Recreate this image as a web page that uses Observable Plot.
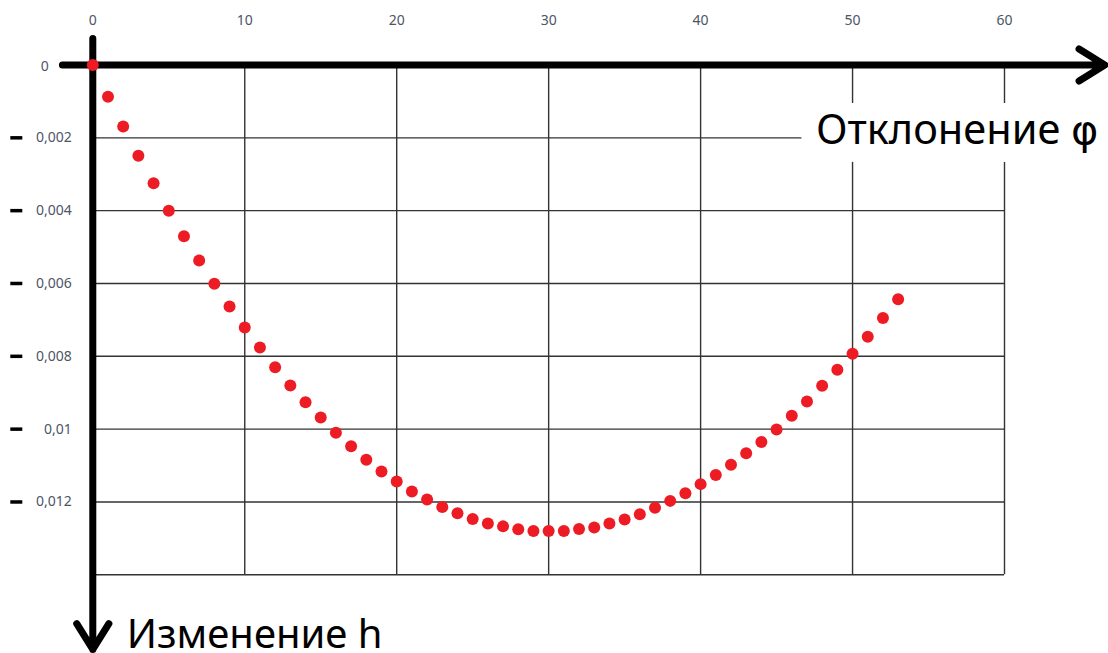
<!DOCTYPE html>
<html>
<head>
<meta charset="utf-8">
<script src="https://cdn.jsdelivr.net/npm/d3@7"></script>
<script src="https://cdn.jsdelivr.net/npm/@observablehq/plot@0.6"></script>
<style>
  html, body { margin: 0; padding: 0; background: #fff; }
  #chart svg { display: block; }
</style>
</head>
<body>
<div id="chart"></div>
<script>
// Data
const phi = [0,1,2,3,4,5,6,7,8,9,10,11,12,13,14,15,16,17,18,19,20,21,22,23,24,25,26,27,28,29,30,31,32,33,34,35,36,37,38,39,40,41,42,43,44,45,46,47,48,49,50,51,52,53];
const h = [0,0.00087,0.00169,0.00249,0.00325,0.0040,0.0047,0.00537,0.00601,0.00663,0.00721,0.00776,0.0083,0.0088,0.00926,0.00968,0.0101,0.01047,0.01084,0.01116,0.01144,0.01171,0.01193,0.01214,0.01231,0.01247,0.01259,0.01267,0.01275,0.0128,0.0128,0.0128,0.01274,0.0127,0.01259,0.01248,0.01234,0.01216,0.01197,0.01176,0.01151,0.01126,0.01098,0.01066,0.01035,0.01001,0.00963,0.00924,0.00881,0.00837,0.00793,0.00746,0.00695,0.00643];
const xTicks = [0,10,20,30,40,50,60];
const yTicks = [0,0.002,0.004,0.006,0.008,0.01,0.012];
const yTickLabels = ["0","0,002","0,004","0,006","0,008","0,01","0,012"];
const xGrid = [10,20,30,40,50,60];
const yGrid = [0.002,0.004,0.006,0.008,0.01,0.012,0.014];
const xLabel = "Отклонение φ";
const yLabel = "Изменение h";

const points = phi.map((p, i) => ({phi: p, h: h[i]}));
const yTickRows = yTicks.map((v, i) => ({v, label: yTickLabels[i]}));

const font = "'Noto Sans', 'Open Sans', sans-serif";
const tickColor = "#4d5566";
const xLabelOpts = {frameAnchor: "top-right", textAnchor: "end", lineAnchor: "bottom", dx: 94, dy: 79, fontSize: 41.5, className: "xlab"};

const chart = Plot.plot({
  width: 1108,
  height: 653,
  marginLeft: 92.3,
  marginRight: 104,
  marginTop: 64.5,
  marginBottom: 78.7,
  style: {fontFamily: font, background: "#fff", overflow: "visible"},
  x: {domain: [0, 60], axis: null},
  y: {domain: [0, 0.014], reverse: true, axis: null},
  marks: [
    // grid
    Plot.ruleX(xGrid, {x: d => d, y1: 0, y2: 0.014, stroke: "#333", strokeWidth: 1.4}),
    Plot.ruleY(yGrid, {y: d => d, x1: 0, x2: 60, stroke: "#333", strokeWidth: 1.4}),
    // white backing behind the axis label
    Plot.text([xLabel], {...xLabelOpts, fill: "white", stroke: "white", strokeWidth: 36, strokeLinejoin: "round"}),
    // axis arrows
    Plot.arrow([{a: -2, b: 66.6}], {x1: "a", x2: "b", y1: 0, y2: 0, stroke: "#000", strokeWidth: 7, headLength: 6.5, headAngle: 64, strokeLinecap: "round", strokeLinejoin: "round"}),
    Plot.arrow([{a: -0.00073, b: 0.01605}], {y1: "a", y2: "b", x1: 0, x2: 0, stroke: "#000", strokeWidth: 7, headLength: 6.5, headAngle: 64, strokeLinecap: "round", strokeLinejoin: "round"}),
    // axis label
    Plot.text([xLabel], {...xLabelOpts, fill: "#000"}),
    // x tick labels (top)
    Plot.text(xTicks, {x: d => d, frameAnchor: "top", lineAnchor: "middle", dy: -44, text: d => String(d), fill: tickColor, fontSize: 14}),
    // y tick dashes and labels
    Plot.axisY(yTicks.filter(d => d !== 0), {anchor: "left", tickSize: 12, dx: -70, tickFormat: () => "", stroke: "#000", strokeWidth: 3.5, label: null}),
    Plot.text(yTickRows.filter(d => d.v !== 0), {y: "v", text: "label", frameAnchor: "left", textAnchor: "end", dx: -21, fill: tickColor, fontSize: 14}),
    Plot.text(yTickRows.filter(d => d.v === 0), {y: "v", text: "label", frameAnchor: "left", textAnchor: "middle", dx: -48, dy: 2, fill: tickColor, fontSize: 14}),
    // bottom label
    Plot.text([yLabel], {frameAnchor: "bottom-left", textAnchor: "start", lineAnchor: "bottom", dx: 34, dy: 73, fontSize: 40, fill: "#000"}),
    // data
    Plot.dot(points, {x: "phi", y: "h", r: 6, fill: "#ED1C24", stroke: "none"})
  ]
});
// render the phi glyph in a font with the open (loopy) form
d3.select(chart).selectAll("g.xlab text").each(function() {
  const t = d3.select(this);
  const s = t.text();
  const i = s.indexOf("φ");
  if (i >= 0) {
    t.text(null);
    t.append("tspan").text(s.slice(0, i));
    t.append("tspan").style("font-family", "'DejaVu Sans'").text("φ");
  }
});
document.getElementById("chart").appendChild(chart);
</script>
</body>
</html>
